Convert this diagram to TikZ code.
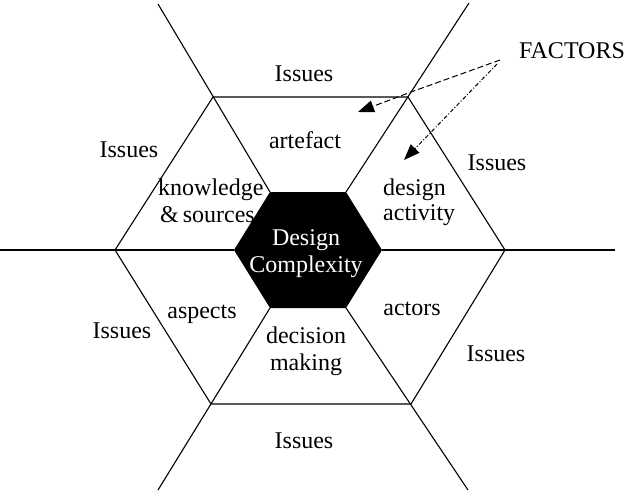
\documentclass[tikz,border=0pt]{standalone}
\usepackage{fontspec}
\setmainfont{Liberation Serif}
\usetikzlibrary{arrows.meta}
\begin{document}
\begin{tikzpicture}[x=1pt,y=-1pt,
  edge/.style={line width=1.1pt,black},
  lbl/.style={anchor=base,inner sep=0pt,font=\fontsize{24}{28}\selectfont},
  wlbl/.style={lbl,text=white},
  ptr/.style={line width=1pt,-{Triangle[length=16pt,width=12pt]}}]
\useasboundingbox (0,0) rectangle (628,490);
% inner hexagon
\coordinate (iL) at (234,250);
\coordinate (iTL) at (270,192);
\coordinate (iTR) at (346,192);
\coordinate (iR) at (382,250);
\coordinate (iBR) at (346,308);
\coordinate (iBL) at (270,308);
% outer hexagon
\coordinate (oL) at (115,250);
\coordinate (oTL) at (213,97);
\coordinate (oTR) at (408,97);
\coordinate (oR) at (505,250);
\coordinate (oBR) at (411,404);
\coordinate (oBL) at (211,404);
% free ends of spokes
\coordinate (eL) at (0,250);
\coordinate (eR) at (615,250);
\coordinate (eTL) at (158,4);
\coordinate (eTR) at (469,3);
\coordinate (eBL) at (158,490);
\coordinate (eBR) at (468,490);
\fill[black] (iL) -- (iTL) -- (iTR) -- (iR) -- (iBR) -- (iBL) -- cycle;
% spokes
\draw[edge] (eL) -- (iL);
\draw[edge] (iR) -- (eR);
\draw[edge] (iTL) -- (eTL);
\draw[edge] (iTR) -- (eTR);
\draw[edge] (iBL) -- (eBL);
\draw[edge] (iBR) -- (eBR);
% outer hexagon
\draw[edge] (oL) -- (oTL) -- (oTR) -- (oR) -- (oBR) -- (oBL) -- cycle;
% texts
\node[lbl] (isT) at (304,81) {Issues};
\node[lbl] (isL) at (129,157) {Issues};
\node[lbl] (isR) at (497,170) {Issues};
\node[lbl] (isBL) at (122,338) {Issues};
\node[lbl] (isBR) at (496,361) {Issues};
\node[lbl] (isB) at (304,448) {Issues};
\node[lbl] (art) at (305,148) {artefact};
\node[lbl,anchor=base west] (kn1) at (158,195) {knowledge};
\node[lbl,anchor=base west] (kn2) at (160,222) {\&\,sources};
\node[lbl,anchor=base west] (da1) at (383,195) {design};
\node[lbl,anchor=base west] (da2) at (383,220) {activity};
\node[lbl] (asp) at (202,318) {aspects};
\node[lbl] (act) at (412,315) {actors};
\node[lbl] (dm1) at (306,343) {decision};
\node[lbl] (dm2) at (306,370) {making};
\node[wlbl] (dc1) at (306,245) {Design};
\node[wlbl] (dc2) at (306,272) {Complexity};
\node[lbl] (fac) at (572,58) {FACTORS};
% pointers
\coordinate (a1s) at (500,60);
\coordinate (a1m) at (411,92);
\coordinate (a1e) at (358,112);
\coordinate (a2s) at (497,64);
\coordinate (a2e) at (404,160);
\draw[ptr,dash pattern=on 6pt off 3pt] (a1s) -- (a1m) -- (a1e);
\draw[ptr,dash pattern=on 4pt off 2pt on 1pt off 2pt] (a2s) -- (a2e);
\end{tikzpicture}
\end{document}
